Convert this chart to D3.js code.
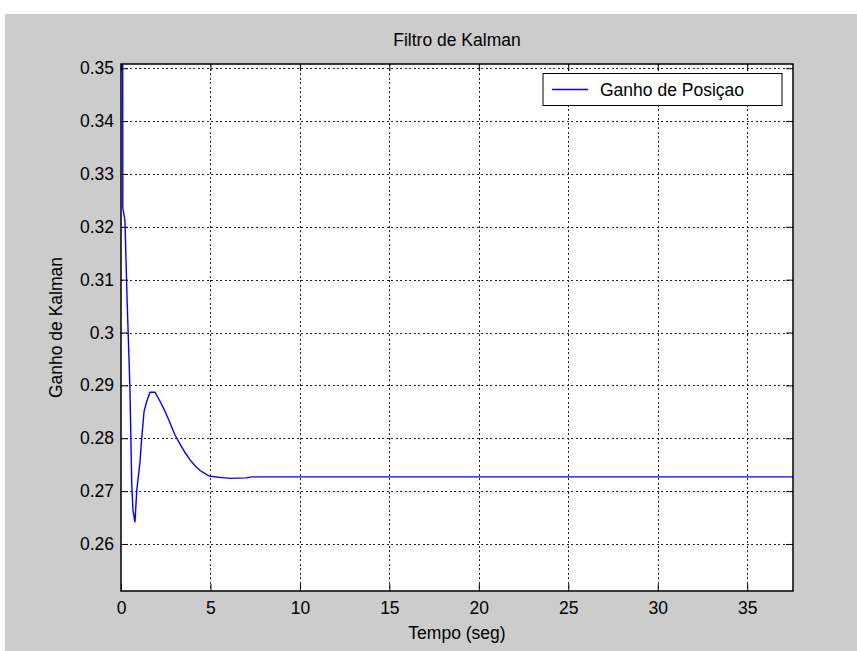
<!DOCTYPE html>
<html>
<head>
<meta charset="utf-8">
<script src="https://cdn.jsdelivr.net/npm/d3@7"></script>
<style>
  html, body { margin: 0; padding: 0; background: #ffffff; }
  svg { display: block; }
  text { font-family: "Liberation Sans", Arial, sans-serif; fill: #000; }
</style>
</head>
<body>
<svg id="chart" width="857" height="651"></svg>
<script>
// ---- data ----
const timeSec = [0, 0.1, 0.22, 0.34, 0.5, 0.6, 0.67, 0.78, 0.88, 1.06, 1.16, 1.29, 1.44, 1.62, 1.9, 2.18, 2.46, 2.74, 3.02, 3.3, 3.58, 3.86, 4.14, 4.42, 4.79, 4.98, 5.53, 6.1, 7.0, 7.3, 37.56];
const gainPos = [1.0, 0.3236, 0.3212, 0.3063, 0.2893, 0.2714, 0.2664, 0.2641, 0.2701, 0.2754, 0.2801, 0.2851, 0.2870, 0.2887, 0.2887, 0.2870, 0.2851, 0.2829, 0.2806, 0.2789, 0.2773, 0.2759, 0.2748, 0.2739, 0.2731, 0.2728, 0.2726, 0.2724, 0.2725, 0.2727, 0.2727];
const xTicks = [0, 5, 10, 15, 20, 25, 30, 35];
const yTicks = [0.26, 0.27, 0.28, 0.29, 0.30, 0.31, 0.32, 0.33, 0.34, 0.35];
const yTickLabels = ["0.26", "0.27", "0.28", "0.29", "0.3", "0.31", "0.32", "0.33", "0.34", "0.35"];
const titleText = "Filtro de Kalman";
const xLabelText = "Tempo (seg)";
const yLabelText = "Ganho de Kalman";
const legendText = "Ganho de Posiçao";

const svg = d3.select("#chart");
const W = 857, H = 651;
const L = 121, R = 793, T = 64, B = 591;
const FS = "17.5px";

// figure background
svg.append("rect").attr("x", 5).attr("y", 14).attr("width", W - 5).attr("height", H - 14).attr("fill", "#cccccc");

const x = d3.scaleLinear().domain([0, 37.56]).range([L, R]);
const y = d3.scaleLinear().domain([0.2511, 0.3508]).range([B, T]);

// plot area
svg.append("rect").attr("x", L).attr("y", T).attr("width", R - L).attr("height", B - T).attr("fill", "#ffffff");

// grid
const grid = svg.append("g").attr("stroke", "#222").attr("stroke-width", 1).attr("stroke-dasharray", "2,2.5").attr("shape-rendering", "crispEdges");
grid.selectAll("line.gx").data(xTicks.filter(d => d > 0)).enter().append("line")
  .attr("x1", d => Math.round(x(d)) + 0.5).attr("x2", d => Math.round(x(d)) + 0.5)
  .attr("y1", T).attr("y2", B);
grid.selectAll("line.gy").data(yTicks).enter().append("line")
  .attr("y1", d => Math.round(y(d)) + 0.5).attr("y2", d => Math.round(y(d)) + 0.5)
  .attr("x1", L).attr("x2", R);

// clip
svg.append("clipPath").attr("id", "clip").append("rect")
  .attr("x", L).attr("y", T).attr("width", R - L).attr("height", B - T);

// line
const pts = timeSec.map((t, i) => [t, gainPos[i]]);
const line = d3.line().x(d => x(d[0])).y(d => y(d[1]));
svg.append("path").datum(pts).attr("clip-path", "url(#clip)")
  .attr("d", line).attr("fill", "none").attr("stroke", "#0000ff").attr("stroke-width", 1.4);

// axes (inward ticks)
const tickLen = 7;
const axB = svg.append("g").attr("transform", `translate(0,${B})`)
  .call(d3.axisBottom(x).tickValues(xTicks).tickSizeInner(-tickLen).tickSizeOuter(0).tickPadding(11).tickFormat(d3.format("d")));
const axT = svg.append("g").attr("transform", `translate(0,${T})`)
  .call(d3.axisTop(x).tickValues(xTicks).tickSizeInner(-tickLen).tickSizeOuter(0).tickFormat(""));
const axL = svg.append("g").attr("transform", `translate(${L},0)`)
  .call(d3.axisLeft(y).tickValues(yTicks).tickSizeInner(-tickLen).tickSizeOuter(0).tickPadding(7).tickFormat((d, i) => yTickLabels[i]));
const axR = svg.append("g").attr("transform", `translate(${R},0)`)
  .call(d3.axisRight(y).tickValues(yTicks).tickSizeInner(-tickLen).tickSizeOuter(0).tickFormat(""));
[axB, axT, axL, axR].forEach(a => {
  a.selectAll(".domain").remove();
  a.selectAll(".tick line").attr("stroke", "#000").attr("stroke-width", 1);
  a.selectAll(".tick text").style("font-size", FS).attr("fill", "#000");
});

// box
svg.append("rect").attr("x", L).attr("y", T).attr("width", R - L).attr("height", B - T)
  .attr("fill", "none").attr("stroke", "#000").attr("stroke-width", 1.5);

// title & labels
svg.append("text").attr("x", (L + R) / 2).attr("y", 46).attr("text-anchor", "middle").style("font-size", FS).text(titleText);
svg.append("text").attr("x", (L + R) / 2).attr("y", 639).attr("text-anchor", "middle").style("font-size", FS).text(xLabelText);
svg.append("text").attr("transform", `translate(62,${(T + B) / 2}) rotate(-90)`).attr("text-anchor", "middle").style("font-size", FS).text(yLabelText);

// legend
const lg = svg.append("g");
lg.append("rect").attr("x", 543).attr("y", 73.5).attr("width", 239).attr("height", 32)
  .attr("fill", "#fff").attr("stroke", "#000").attr("stroke-width", 1);
lg.append("line").attr("x1", 552).attr("x2", 588).attr("y1", 89.5).attr("y2", 89.5).attr("stroke", "#0000ff").attr("stroke-width", 1.4);
lg.append("text").attr("x", 600).attr("y", 96).style("font-size", FS).text(legendText);
</script>
</body>
</html>
